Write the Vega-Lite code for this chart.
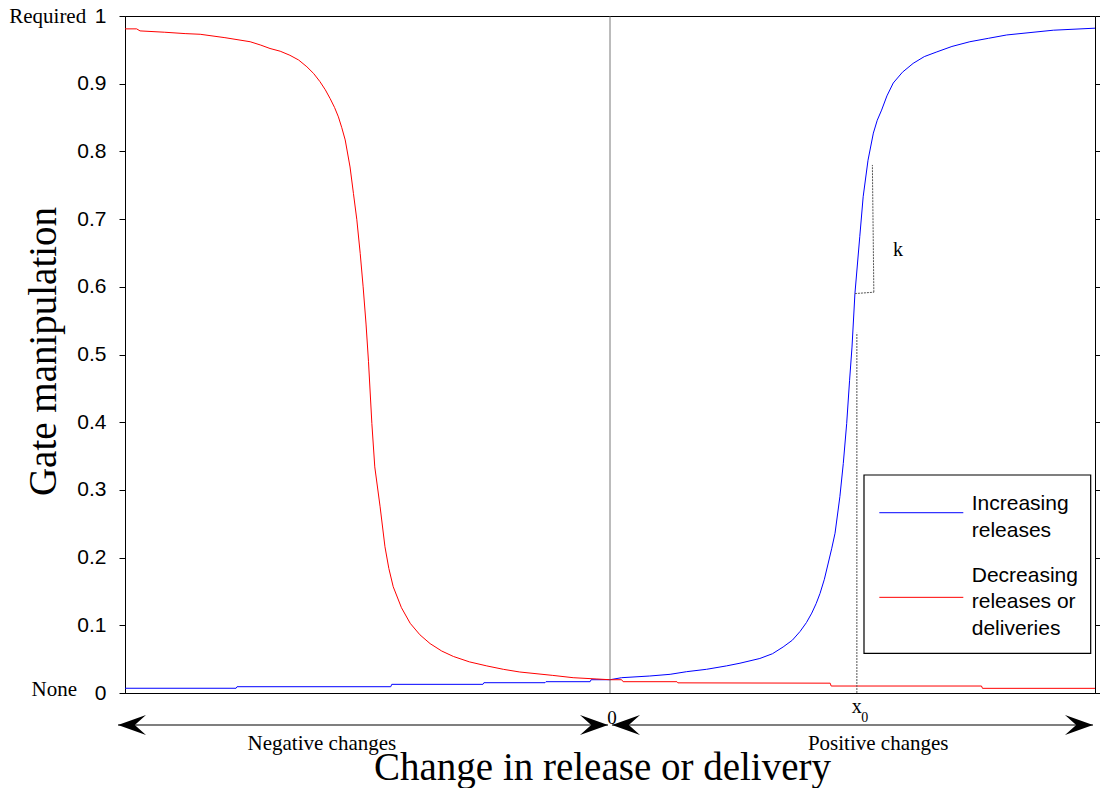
{
  "$schema": "https://vega.github.io/schema/vega-lite/v6.json",
  "width": 970,
  "height": 677,
  "autosize": {"type": "none"},
  "padding": {"left": 125, "top": 16, "right": 5, "bottom": 95},
  "background": "white",
  "config": {"view": {"stroke": "black", "strokeWidth": 1}, "axis": {"grid": false}},
  "datasets": {
    "curves": [
      {"s": "Increasing releases", "x": -1, "y": 0.007},
      {"s": "Increasing releases", "x": -0.771, "y": 0.007},
      {"s": "Increasing releases", "x": -0.769, "y": 0.0093},
      {"s": "Increasing releases", "x": -0.452, "y": 0.0093},
      {"s": "Increasing releases", "x": -0.45, "y": 0.0128},
      {"s": "Increasing releases", "x": -0.262, "y": 0.0128},
      {"s": "Increasing releases", "x": -0.26, "y": 0.0152},
      {"s": "Increasing releases", "x": -0.134, "y": 0.0152},
      {"s": "Increasing releases", "x": -0.132, "y": 0.0167},
      {"s": "Increasing releases", "x": -0.041, "y": 0.0167},
      {"s": "Increasing releases", "x": -0.039, "y": 0.0196},
      {"s": "Increasing releases", "x": 0, "y": 0.0196},
      {"s": "Increasing releases", "x": 0.024, "y": 0.0226},
      {"s": "Increasing releases", "x": 0.082, "y": 0.0251},
      {"s": "Increasing releases", "x": 0.124, "y": 0.0276},
      {"s": "Increasing releases", "x": 0.158, "y": 0.0315},
      {"s": "Increasing releases", "x": 0.199, "y": 0.035},
      {"s": "Increasing releases", "x": 0.24, "y": 0.04},
      {"s": "Increasing releases", "x": 0.268, "y": 0.044},
      {"s": "Increasing releases", "x": 0.309, "y": 0.051},
      {"s": "Increasing releases", "x": 0.335, "y": 0.058},
      {"s": "Increasing releases", "x": 0.357, "y": 0.068},
      {"s": "Increasing releases", "x": 0.376, "y": 0.078},
      {"s": "Increasing releases", "x": 0.392, "y": 0.091},
      {"s": "Increasing releases", "x": 0.405, "y": 0.104},
      {"s": "Increasing releases", "x": 0.416, "y": 0.118},
      {"s": "Increasing releases", "x": 0.425, "y": 0.132},
      {"s": "Increasing releases", "x": 0.433, "y": 0.147},
      {"s": "Increasing releases", "x": 0.442, "y": 0.168},
      {"s": "Increasing releases", "x": 0.45, "y": 0.192},
      {"s": "Increasing releases", "x": 0.457, "y": 0.213},
      {"s": "Increasing releases", "x": 0.464, "y": 0.236},
      {"s": "Increasing releases", "x": 0.474, "y": 0.29},
      {"s": "Increasing releases", "x": 0.481, "y": 0.339},
      {"s": "Increasing releases", "x": 0.488, "y": 0.398},
      {"s": "Increasing releases", "x": 0.494, "y": 0.462},
      {"s": "Increasing releases", "x": 0.499, "y": 0.511},
      {"s": "Increasing releases", "x": 0.505, "y": 0.59},
      {"s": "Increasing releases", "x": 0.515, "y": 0.674},
      {"s": "Increasing releases", "x": 0.522, "y": 0.733},
      {"s": "Increasing releases", "x": 0.532, "y": 0.787},
      {"s": "Increasing releases", "x": 0.543, "y": 0.827},
      {"s": "Increasing releases", "x": 0.551, "y": 0.846},
      {"s": "Increasing releases", "x": 0.56, "y": 0.861},
      {"s": "Increasing releases", "x": 0.571, "y": 0.882},
      {"s": "Increasing releases", "x": 0.584, "y": 0.901},
      {"s": "Increasing releases", "x": 0.603, "y": 0.917},
      {"s": "Increasing releases", "x": 0.625, "y": 0.93},
      {"s": "Increasing releases", "x": 0.648, "y": 0.94},
      {"s": "Increasing releases", "x": 0.674, "y": 0.947},
      {"s": "Increasing releases", "x": 0.705, "y": 0.955},
      {"s": "Increasing releases", "x": 0.742, "y": 0.962},
      {"s": "Increasing releases", "x": 0.78, "y": 0.967},
      {"s": "Increasing releases", "x": 0.818, "y": 0.972},
      {"s": "Increasing releases", "x": 0.914, "y": 0.979},
      {"s": "Increasing releases", "x": 1, "y": 0.982},
      {"s": "Decreasing releases or deliveries", "x": -1, "y": 0.981},
      {"s": "Decreasing releases or deliveries", "x": -0.976, "y": 0.981},
      {"s": "Decreasing releases or deliveries", "x": -0.969, "y": 0.978},
      {"s": "Decreasing releases or deliveries", "x": -0.918, "y": 0.976},
      {"s": "Decreasing releases or deliveries", "x": -0.876, "y": 0.974},
      {"s": "Decreasing releases or deliveries", "x": -0.845, "y": 0.973},
      {"s": "Decreasing releases or deliveries", "x": -0.794, "y": 0.968},
      {"s": "Decreasing releases or deliveries", "x": -0.742, "y": 0.962},
      {"s": "Decreasing releases or deliveries", "x": -0.72, "y": 0.957},
      {"s": "Decreasing releases or deliveries", "x": -0.701, "y": 0.952},
      {"s": "Decreasing releases or deliveries", "x": -0.68, "y": 0.948},
      {"s": "Decreasing releases or deliveries", "x": -0.66, "y": 0.942},
      {"s": "Decreasing releases or deliveries", "x": -0.642, "y": 0.935},
      {"s": "Decreasing releases or deliveries", "x": -0.625, "y": 0.925},
      {"s": "Decreasing releases or deliveries", "x": -0.611, "y": 0.915},
      {"s": "Decreasing releases or deliveries", "x": -0.598, "y": 0.903},
      {"s": "Decreasing releases or deliveries", "x": -0.587, "y": 0.891},
      {"s": "Decreasing releases or deliveries", "x": -0.577, "y": 0.878},
      {"s": "Decreasing releases or deliveries", "x": -0.568, "y": 0.865},
      {"s": "Decreasing releases or deliveries", "x": -0.56, "y": 0.851},
      {"s": "Decreasing releases or deliveries", "x": -0.553, "y": 0.835},
      {"s": "Decreasing releases or deliveries", "x": -0.546, "y": 0.817},
      {"s": "Decreasing releases or deliveries", "x": -0.536, "y": 0.777},
      {"s": "Decreasing releases or deliveries", "x": -0.529, "y": 0.738},
      {"s": "Decreasing releases or deliveries", "x": -0.522, "y": 0.699},
      {"s": "Decreasing releases or deliveries", "x": -0.515, "y": 0.649},
      {"s": "Decreasing releases or deliveries", "x": -0.509, "y": 0.6},
      {"s": "Decreasing releases or deliveries", "x": -0.503, "y": 0.545},
      {"s": "Decreasing releases or deliveries", "x": -0.498, "y": 0.49},
      {"s": "Decreasing releases or deliveries", "x": -0.491, "y": 0.398},
      {"s": "Decreasing releases or deliveries", "x": -0.485, "y": 0.334},
      {"s": "Decreasing releases or deliveries", "x": -0.474, "y": 0.275},
      {"s": "Decreasing releases or deliveries", "x": -0.464, "y": 0.216},
      {"s": "Decreasing releases or deliveries", "x": -0.456, "y": 0.184},
      {"s": "Decreasing releases or deliveries", "x": -0.447, "y": 0.157},
      {"s": "Decreasing releases or deliveries", "x": -0.43, "y": 0.126},
      {"s": "Decreasing releases or deliveries", "x": -0.412, "y": 0.103},
      {"s": "Decreasing releases or deliveries", "x": -0.392, "y": 0.086},
      {"s": "Decreasing releases or deliveries", "x": -0.371, "y": 0.073},
      {"s": "Decreasing releases or deliveries", "x": -0.347, "y": 0.062},
      {"s": "Decreasing releases or deliveries", "x": -0.323, "y": 0.054},
      {"s": "Decreasing releases or deliveries", "x": -0.29, "y": 0.046},
      {"s": "Decreasing releases or deliveries", "x": -0.254, "y": 0.04},
      {"s": "Decreasing releases or deliveries", "x": -0.22, "y": 0.035},
      {"s": "Decreasing releases or deliveries", "x": -0.186, "y": 0.031},
      {"s": "Decreasing releases or deliveries", "x": -0.118, "y": 0.026},
      {"s": "Decreasing releases or deliveries", "x": -0.076, "y": 0.0226},
      {"s": "Decreasing releases or deliveries", "x": -0.027, "y": 0.0207},
      {"s": "Decreasing releases or deliveries", "x": 0, "y": 0.0196},
      {"s": "Decreasing releases or deliveries", "x": 0.024, "y": 0.0196},
      {"s": "Decreasing releases or deliveries", "x": 0.027, "y": 0.0167},
      {"s": "Decreasing releases or deliveries", "x": 0.138, "y": 0.0167},
      {"s": "Decreasing releases or deliveries", "x": 0.14, "y": 0.015},
      {"s": "Decreasing releases or deliveries", "x": 0.454, "y": 0.0145},
      {"s": "Decreasing releases or deliveries", "x": 0.456, "y": 0.0103},
      {"s": "Decreasing releases or deliveries", "x": 0.766, "y": 0.0103},
      {"s": "Decreasing releases or deliveries", "x": 0.768, "y": 0.0069},
      {"s": "Decreasing releases or deliveries", "x": 1, "y": 0.0069}
    ],
    "zero": [{"x": 0, "y": 0, "y2": 1}],
    "dotted": [
      {"x": 0.509, "x2": 0.509, "y": 0, "y2": 0.532},
      {"x": 0.505, "x2": 0.544, "y": 0.59, "y2": 0.592},
      {"x": 0.544, "x2": 0.541, "y": 0.592, "y2": 0.78}
    ],
    "arrows": [
      {"x": -1.0144, "x2": -0.004, "y": -0.0473},
      {"x": 0.004, "x2": 0.9959, "y": -0.0473}
    ],
    "heads": [
      {"x": -0.9856, "y": -0.0473, "dir": "left"},
      {"x": -0.033, "y": -0.0473, "dir": "right"},
      {"x": 0.033, "y": -0.0473, "dir": "left"},
      {"x": 0.967, "y": -0.0473, "dir": "right"}
    ],
    "labels": [
      {"t": "k", "x": 0.594, "y": 0.654, "fs": 20},
      {"t": "x", "x": 0.509, "y": -0.0207, "fs": 20},
      {"t": "0", "x": 0.525, "y": -0.0362, "fs": 14},
      {"t": "0", "x": 0.004, "y": -0.0369, "fs": 19},
      {"t": "Negative changes", "x": -0.594, "y": -0.0753, "fs": 21},
      {"t": "Positive changes", "x": 0.553, "y": -0.0753, "fs": 21}
    ],
    "sidelabels": [
      {"t": "Required", "x": -1.08, "y": 0.9985},
      {"t": "None", "x": -1.099, "y": 0.0044}
    ],
    "legendbox": [{"x": 0.5237, "x2": 0.9911, "y": 0.322, "y2": 0.0586}],
    "legendlines": [
      {"s": "Increasing releases", "x": 0.5553, "x2": 0.7285, "y": 0.2663},
      {"s": "Decreasing releases or deliveries", "x": 0.5553, "x2": 0.7285, "y": 0.1413}
    ],
    "legendtext": [
      {"t": "Increasing", "x": 0.7458, "y": 0.2703},
      {"t": "releases", "x": 0.7458, "y": 0.2304},
      {"t": "Decreasing", "x": 0.7458, "y": 0.164},
      {"t": "releases or", "x": 0.7458, "y": 0.1256},
      {"t": "deliveries", "x": 0.7458, "y": 0.0857}
    ]
  },
  "layer": [
    {
      "data": {"name": "curves"},
      "mark": {"type": "line", "strokeWidth": 1, "clip": false},
      "encoding": {
        "x": {
          "field": "x", "type": "quantitative",
          "scale": {"domain": [-1, 1], "nice": false, "zero": false},
          "axis": {
            "title": "Change in release or delivery",
            "labels": false, "ticks": false, "domain": true, "domainColor": "black",
            "titleFont": "Liberation Serif", "titleFontSize": 39, "titleFontWeight": "normal",
            "titleColor": "black", "titleX": 477, "titleY": 86,
            "titleAlign": "center", "titleBaseline": "alphabetic"
          }
        },
        "y": {
          "field": "y", "type": "quantitative",
          "scale": {"domain": [0, 1], "nice": false, "zero": false},
          "axis": {
            "title": "Gate manipulation",
            "values": [0, 0.1, 0.2, 0.3, 0.4, 0.5, 0.6, 0.7, 0.8, 0.9, 1],
            "format": "~g",
            "labelFont": "Liberation Sans", "labelFontSize": 21, "labelColor": "black",
            "labelPadding": 13, "tickSize": 6, "tickColor": "black", "domainColor": "black",
            "titleFont": "Liberation Serif", "titleFontSize": 39, "titleFontWeight": "normal",
            "titleColor": "black", "titleX": -82, "titleY": 335, "titleAngle": -90,
            "titleAlign": "center", "titleBaseline": "middle"
          }
        },
        "color": {
          "field": "s", "type": "nominal",
          "scale": {"domain": ["Increasing releases", "Decreasing releases or deliveries"], "range": ["#0000ff", "#ff0000"]},
          "legend": null
        }
      }
    },
    {
      "data": {"name": "zero"},
      "mark": {"type": "rule", "color": "#555555", "strokeWidth": 0.8},
      "encoding": {
        "x": {"field": "x", "type": "quantitative", "axis": null},
        "y": {
          "field": "y", "type": "quantitative",
          "axis": {"orient": "right", "labels": false, "domain": false, "ticks": true, "tickSize": 6, "tickColor": "black", "title": null,
                   "values": [0, 0.1, 0.2, 0.3, 0.4, 0.5, 0.6, 0.7, 0.8, 0.9, 1]}
        },
        "y2": {"field": "y2"}
      }
    },
    {
      "data": {"name": "dotted"},
      "mark": {"type": "rule", "color": "#555555", "strokeWidth": 1, "strokeDash": [2, 1]},
      "encoding": {
        "x": {"field": "x", "type": "quantitative", "axis": null},
        "x2": {"field": "x2"},
        "y": {"field": "y", "type": "quantitative", "axis": null},
        "y2": {"field": "y2"}
      }
    },
    {
      "data": {"name": "arrows"},
      "mark": {"type": "rule", "color": "black", "strokeWidth": 1.2, "clip": false},
      "encoding": {
        "x": {"field": "x", "type": "quantitative", "axis": null},
        "x2": {"field": "x2"},
        "y": {"field": "y", "type": "quantitative", "axis": null}
      }
    },
    {
      "data": {"name": "heads"},
      "mark": {"type": "point", "filled": true, "color": "black", "opacity": 1, "size": 784, "strokeWidth": 0, "clip": false},
      "encoding": {
        "x": {"field": "x", "type": "quantitative", "axis": null},
        "y": {"field": "y", "type": "quantitative", "axis": null},
        "shape": {
          "field": "dir", "type": "nominal", "legend": null,
          "scale": {"domain": ["left", "right"], "range": ["M-1,0L1,-0.71L0.2,0L1,0.71Z", "M1,0L-1,-0.71L-0.2,0L-1,0.71Z"]}
        }
      }
    },
    {
      "data": {"name": "labels"},
      "mark": {"type": "text", "font": "Liberation Serif", "color": "black", "align": "center", "baseline": "middle", "clip": false},
      "encoding": {
        "x": {"field": "x", "type": "quantitative", "axis": null},
        "y": {"field": "y", "type": "quantitative", "axis": null},
        "text": {"field": "t"},
        "size": {"field": "fs", "type": "quantitative", "scale": null, "legend": null}
      }
    },
    {
      "data": {"name": "sidelabels"},
      "mark": {"type": "text", "font": "Liberation Serif", "fontSize": 21, "color": "black", "align": "right", "baseline": "middle", "clip": false},
      "encoding": {
        "x": {"field": "x", "type": "quantitative", "axis": null},
        "y": {"field": "y", "type": "quantitative", "axis": null},
        "text": {"field": "t"}
      }
    },
    {
      "data": {"name": "legendbox"},
      "mark": {"type": "rect", "fill": "white", "stroke": "black", "strokeWidth": 1.2},
      "encoding": {
        "x": {"field": "x", "type": "quantitative", "axis": null},
        "x2": {"field": "x2"},
        "y": {"field": "y", "type": "quantitative", "axis": null},
        "y2": {"field": "y2"}
      }
    },
    {
      "data": {"name": "legendlines"},
      "mark": {"type": "rule", "strokeWidth": 1},
      "encoding": {
        "x": {"field": "x", "type": "quantitative", "axis": null},
        "x2": {"field": "x2"},
        "y": {"field": "y", "type": "quantitative", "axis": null},
        "color": {"field": "s", "type": "nominal", "legend": null}
      }
    },
    {
      "data": {"name": "legendtext"},
      "mark": {"type": "text", "font": "Liberation Sans", "fontSize": 21, "color": "black", "align": "left", "baseline": "alphabetic"},
      "encoding": {
        "x": {"field": "x", "type": "quantitative", "axis": null},
        "y": {"field": "y", "type": "quantitative", "axis": null},
        "text": {"field": "t"}
      }
    }
  ],
  "resolve": {"axis": {"x": "independent", "y": "independent"}}
}
